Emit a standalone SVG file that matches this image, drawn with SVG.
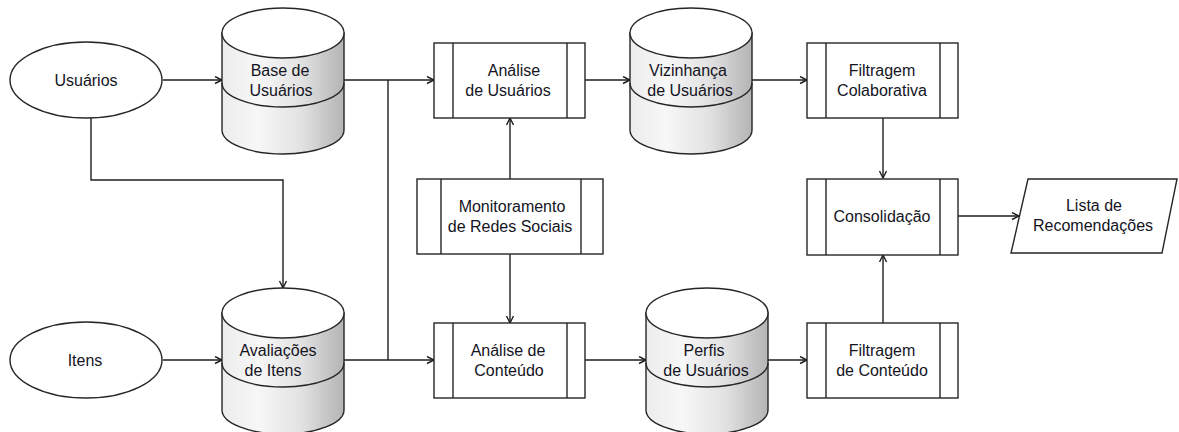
<svg xmlns="http://www.w3.org/2000/svg" xmlns:xlink="http://www.w3.org/1999/xlink" width="1179" height="432" viewBox="0 0 1179 432">
  <style>
    .shape { fill: #ffffff; stroke: #262626; stroke-width: 1.4; }
    .bar { fill: none; stroke: #262626; stroke-width: 1.4; }
    .body { fill: url(#cylGrad); stroke: #262626; stroke-width: 1.4; }
    .edge { fill: none; stroke: #1e1e1e; stroke-width: 1.4; }
    text { font-family: "Liberation Sans", Arial, sans-serif; font-size: 16px; fill: #14141e; text-anchor: middle; }
  </style>
  <defs>
    <linearGradient id="cylGrad" x1="0" y1="0" x2="1" y2="0">
      <stop offset="0" stop-color="#ececec"/>
      <stop offset="0.3" stop-color="#f7f7f7"/>
      <stop offset="0.65" stop-color="#e2e2e2"/>
      <stop offset="1" stop-color="#b4b4b4"/>
    </linearGradient>
    <marker id="arrow" markerWidth="10" markerHeight="10" refX="8" refY="4" orient="auto" markerUnits="userSpaceOnUse">
      <path d="M1,0.5 L8,4 L1,7.5" fill="none" stroke="#1e1e1e" stroke-width="1.4"/>
    </marker>
    <!-- database cylinder, 122 wide, origin at top-left -->
    <g id="cylinder">
      <path class="body" d="M0,25 V122 A61,24 0 0 0 122,122 V25 Z"/>
      <ellipse class="shape" cx="61" cy="25" rx="61" ry="25"/>
      <path class="bar" d="M0,75 A61,24 0 0 0 122,75"/>
    </g>
  </defs>

  <!-- connectors -->
  <g id="connectors">
    <path class="edge" d="M163,80 H222" marker-end="url(#arrow)"/>
    <path class="edge" d="M91,118 V180 H283 V288" marker-end="url(#arrow)"/>
    <path class="edge" d="M163,360 H222" marker-end="url(#arrow)"/>
    <path class="edge" d="M344,80 H434" marker-end="url(#arrow)"/>
    <path class="edge" d="M388,80 V360"/>
    <path class="edge" d="M344,360 H434" marker-end="url(#arrow)"/>
    <path class="edge" d="M585,80 H630" marker-end="url(#arrow)"/>
    <path class="edge" d="M752,80 H807" marker-end="url(#arrow)"/>
    <path class="edge" d="M510,179 V118" marker-end="url(#arrow)"/>
    <path class="edge" d="M510,254 V323" marker-end="url(#arrow)"/>
    <path class="edge" d="M585,360 H646" marker-end="url(#arrow)"/>
    <path class="edge" d="M768,360 H807" marker-end="url(#arrow)"/>
    <path class="edge" d="M883,118 V178" marker-end="url(#arrow)"/>
    <path class="edge" d="M883,323 V255" marker-end="url(#arrow)"/>
    <path class="edge" d="M958,216 H1019" marker-end="url(#arrow)"/>
  </g>

  <!-- sources -->
  <g id="usuarios">
    <ellipse class="shape" cx="86" cy="80" rx="76" ry="38"/>
    <text x="86" y="86">Usuários</text>
  </g>
  <g id="itens">
    <ellipse class="shape" cx="86" cy="360" rx="76" ry="38"/>
    <text x="85" y="366">Itens</text>
  </g>

  <!-- data stores -->
  <g id="base-usuarios">
    <use xlink:href="#cylinder" transform="translate(222,8)"/>
    <text x="280" y="76">Base de</text>
    <text x="281" y="96">Usuários</text>
  </g>
  <g id="avaliacoes-itens">
    <use xlink:href="#cylinder" transform="translate(222,288)"/>
    <text x="278" y="356">Avaliações</text>
    <text x="273" y="376">de Itens</text>
  </g>
  <g id="vizinhanca-usuarios">
    <use xlink:href="#cylinder" transform="translate(630,8)"/>
    <text x="688" y="76">Vizinhança</text>
    <text x="690" y="96">de Usuários</text>
  </g>
  <g id="perfis-usuarios">
    <use xlink:href="#cylinder" transform="translate(646,288)"/>
    <text x="704" y="356">Perfis</text>
    <text x="706" y="376">de Usuários</text>
  </g>

  <!-- processes -->
  <g id="analise-usuarios">
    <rect class="shape" x="434" y="43" width="151" height="75"/>
    <path class="bar" d="M453,43 V118 M567,43 V118"/>
    <text x="514" y="76">Análise</text>
    <text x="508" y="96">de Usuários</text>
  </g>
  <g id="monitoramento">
    <rect class="shape" x="417" y="179" width="186" height="75"/>
    <path class="bar" d="M441,179 V254 M581,179 V254"/>
    <text x="512" y="212">Monitoramento</text>
    <text x="510" y="232">de Redes Sociais</text>
  </g>
  <g id="analise-conteudo">
    <rect class="shape" x="434" y="323" width="151" height="75"/>
    <path class="bar" d="M453,323 V398 M567,323 V398"/>
    <text x="508" y="356">Análise de</text>
    <text x="509" y="376">Conteúdo</text>
  </g>
  <g id="filtragem-colaborativa">
    <rect class="shape" x="807" y="43" width="151" height="75"/>
    <path class="bar" d="M826,43 V118 M940,43 V118"/>
    <text x="882" y="76">Filtragem</text>
    <text x="882" y="96">Colaborativa</text>
  </g>
  <g id="consolidacao">
    <rect class="shape" x="807" y="179" width="151" height="76"/>
    <path class="bar" d="M826,179 V255 M940,179 V255"/>
    <text x="882" y="222">Consolidação</text>
  </g>
  <g id="filtragem-conteudo">
    <rect class="shape" x="807" y="323" width="151" height="75"/>
    <path class="bar" d="M826,323 V398 M940,323 V398"/>
    <text x="882" y="356">Filtragem</text>
    <text x="882" y="376">de Conteúdo</text>
  </g>

  <!-- output -->
  <g id="lista-recomendacoes">
    <polygon class="shape" points="1028,179 1177,179 1162,253 1011,253"/>
    <text x="1094" y="211">Lista de</text>
    <text x="1093" y="231">Recomendações</text>
  </g>
</svg>
